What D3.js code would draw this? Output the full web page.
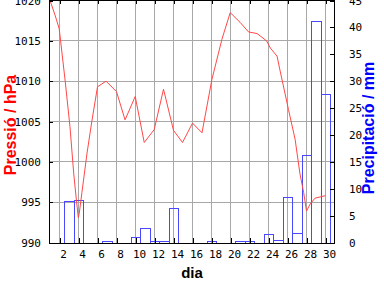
<!DOCTYPE html>
<html>
<head>
<meta charset="utf-8">
<script src="https://cdn.jsdelivr.net/npm/d3@7"></script>
<style>
body{margin:0;background:#fff;}
svg{display:block;}
.tick text{font-family:"DejaVu Sans Mono",monospace;font-size:11px;fill:#000;}
</style>
</head>
<body>
<svg id="chart" width="384" height="288"></svg>
<script>
// pressio (hPa) per dia, amb punts intermedis
var pDies = [1,1.5,1.97,2.6,3.1,3.5,3.8,3.98,4.08,4.36,4.9,5.4,6.0,6.9,8.0,8.9,9.97,10.92,11.97,12.95,14.0,14.95,16.0,17.0,18.04,19.1,19.97,21.0,21.9,22.8,23.8,24.2,24.9,25.2,26.1,26.8,27.3,27.7,28.0,28.4,28.9,29.97];
var pValors = [1020.0,1018.3,1016.5,1010.0,1004.4,998.5,995.0,993.1,993.6,996.2,1001.1,1005.0,1009.3,1010.0,1008.7,1005.2,1008.1,1002.4,1004.0,1009.0,1003.9,1002.4,1004.8,1003.6,1010.2,1015.2,1018.5,1017.3,1016.1,1015.9,1015.0,1014.1,1013.1,1011.4,1006.5,1002.8,998.6,996.2,993.9,994.8,995.5,995.8];

// precipitacio (mm) per dia
var dies = d3.range(1,31);
var precip = [0,0,7.8,7.9,0,0,0.2,0,0,1.0,2.7,0.2,0.2,6.4,0,0,0,0.2,0,0,0.2,0.2,0,1.6,0.4,8.5,1.8,16.2,41.2,27.6];

var ticsDia = d3.range(2,31,2);
var ticsP = d3.range(990,1021,5);
var ticsMm = d3.range(0,46,5);

var svg = d3.select("#chart");
var L = 49.5, R = 334.5, T = 0.5, B = 243.5;

var x = d3.scaleLinear().domain([1,31]).range([50,335]);
var y = d3.scaleLinear().domain([990,1020]).range([242.5,0.5]);
var yp = d3.scaleLinear().domain([0,45]).range([242.5,0.5]);

// graella
var g = svg.append("g").attr("shape-rendering","crispEdges");
g.selectAll(".gx").data(ticsDia).enter().append("line")
	.attr("x1",function(d){return x(d)}).attr("x2",function(d){return x(d)})
	.attr("y1",T).attr("y2",B)
	.attr("stroke","#a8a8a8");
g.selectAll(".gy").data(ticsP.slice(1,-1)).enter().append("line")
	.attr("x1",L).attr("x2",R)
	.attr("y1",function(d){return y(d)}).attr("y2",function(d){return y(d)})
	.attr("stroke","#a8a8a8");

// barres de precipitacio
var dades = dies.map(function(d,i){return {key:d, value:precip[i]}}).filter(function(d){return d.value > 0});
svg.append("g").attr("shape-rendering","crispEdges").selectAll("rect")
	.data(dades).enter().append("rect")
	.attr("x",function(d){return Math.round(x(d.key-0.5))+0.5})
	.attr("width",function(d){return Math.round(x(d.key+0.5))-Math.round(x(d.key-0.5))})
	.attr("y",function(d){return Math.round(yp(d.value))+0.5})
	.attr("height",function(d){return Math.max(0,B-0.5-Math.round(yp(d.value)))})
	.attr("fill","none")
	.attr("stroke","#4848ff");

// linia de pressio
var linia = d3.line()
	.x(function(d){return x(d[0])})
	.y(function(d){return y(d[1])});
svg.append("path")
	.datum(pDies.map(function(d,i){return [d,pValors[i]]}))
	.attr("d",linia)
	.attr("fill","none")
	.attr("stroke","#ff4848")
	.attr("stroke-width",1);

// eixos
var ax = svg.append("g").attr("transform","translate(0,"+(B-0.5)+")")
	.call(d3.axisBottom(x).tickValues(ticsDia).tickSize(-5).tickPadding(7));
ax.selectAll("text").attr("x",3.5);
svg.append("g").attr("transform","translate(0,"+(T-0.5)+")")
	.call(d3.axisTop(x).tickValues(ticsDia).tickSize(-4).tickFormat(""));
svg.append("g").attr("transform","translate("+(L-0.5)+",0)")
	.call(d3.axisLeft(y).tickValues(ticsP).tickSize(-4).tickPadding(8).tickFormat(d3.format("d")));
svg.append("g").attr("transform","translate("+(R-0.5)+",0)")
	.call(d3.axisRight(yp).tickValues(ticsMm).tickSize(-4).tickPadding(15).tickFormat(d3.format("d")));
svg.selectAll(".domain").remove();
svg.selectAll(".tick line").attr("stroke","#000").attr("shape-rendering","crispEdges");

// marc
svg.append("rect").attr("x",L).attr("y",T).attr("width",R-L).attr("height",B-T)
	.attr("fill","none").attr("stroke","#000").attr("shape-rendering","crispEdges");

// titols
svg.append("text").text("dia")
	.attr("x",(L+R)/2).attr("y",278).attr("text-anchor","middle")
	.style("font-family","'Liberation Sans',Arial,sans-serif").style("font-weight","bold").style("font-size","15px")
	.attr("fill","#000");
svg.append("text").text("Pressió / hPa")
	.attr("transform","translate(16,125) rotate(-90)").attr("text-anchor","middle")
	.style("font-family","'Liberation Sans',Arial,sans-serif").style("font-weight","bold").style("font-size","16px")
	.attr("fill","#ff0000");
svg.append("text").text("Precipitació / mm")
	.attr("transform","translate(374,128) rotate(-90)").attr("text-anchor","middle")
	.style("font-family","'Liberation Sans',Arial,sans-serif").style("font-weight","bold").style("font-size","16px")
	.attr("fill","#0000ff");
</script>
</body>
</html>
